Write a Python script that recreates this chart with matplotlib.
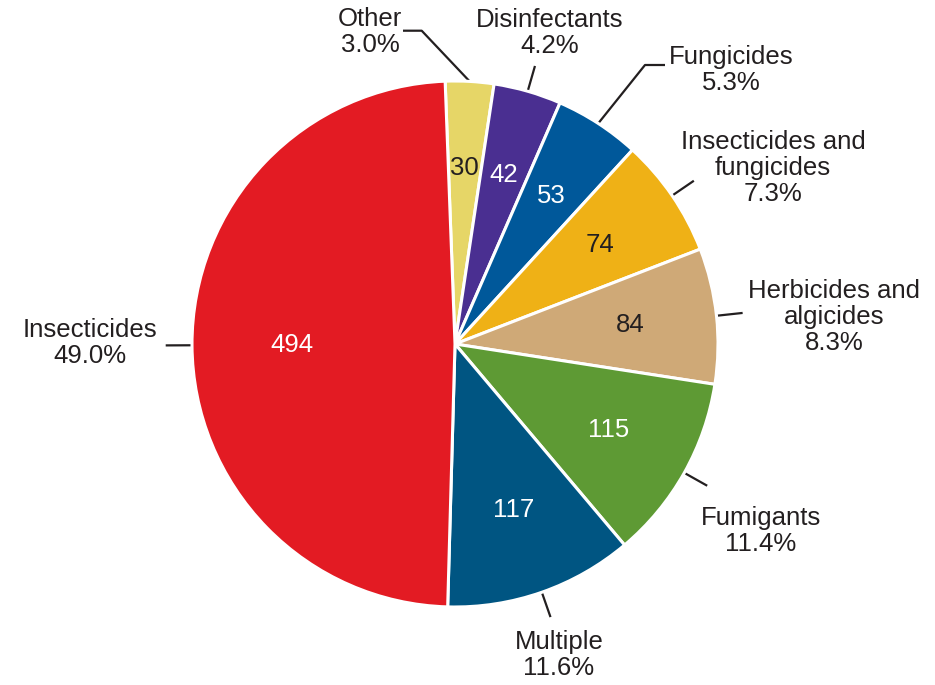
import numpy as np
import matplotlib
matplotlib.use("Agg")
import matplotlib.pyplot as plt

# Pesticide incidents by product class, clockwise from the top
categories = ["Other", "Disinfectants", "Fungicides", "Insecticides and\nfungicides",
              "Herbicides and\nalgicides", "Fumigants", "Multiple", "Insecticides"]
counts = [30, 42, 53, 74, 84, 115, 117, 494]
colors = ["#E6D667", "#4A2F91", "#00589A", "#EFB116",
          "#CFA977", "#5E9A34", "#005582", "#E31B23"]
count_colors = ["#231F20", "white", "white", "#231F20",
                "#231F20", "white", "white", "white"]

INK = "#231F20"
plt.rcParams["font.family"] = ["Liberation Sans", "DejaVu Sans"]
FS = 18.5

W, H = 935, 685
CX, CY, R = 455, 344, 263   # pie centre and radius in pixels


def px(x, y):
    """pixel position (from top-left) -> data coords of the pie axes"""
    return (x - CX) / R, (CY - y) / R


fig = plt.figure(figsize=(W / 100, H / 100), dpi=100)
ax = fig.add_axes([0, 0, 1, 1])

start = 92.15
wedges, _ = ax.pie(counts, colors=colors, startangle=start, counterclock=False,
                   radius=1.0, wedgeprops=dict(edgecolor="white", linewidth=2.2))

total = sum(counts)
for i, (w, n) in enumerate(zip(wedges, counts)):
    mid = np.deg2rad((w.theta1 + w.theta2) / 2)
    d = 0.62 if n == max(counts) else 0.67
    ax.text(d * np.cos(mid), d * np.sin(mid), str(n), ha="center", va="center",
            fontsize=FS, color=count_colors[i])

# outer labels: (text centre in pixels, elbow points of the leader in pixels)
label_pos = [(370, 32), (550, 33), (731, 70), (773, 168),
             (834, 317), (761, 531), (559, 655), (90, 343)]
elbows = {0: [(421.7, 30.7), (403, 30.7)], 2: [(645, 65), (665, 65)]}

for i, (w, n) in enumerate(zip(wedges, counts)):
    mid = np.deg2rad((w.theta1 + w.theta2) / 2)
    x0, y0 = np.cos(mid), np.sin(mid)
    if i in elbows:
        pts = [px(*p) for p in elbows[i]]
        xs = [x0] + [p[0] for p in pts]
        ys = [y0] + [p[1] for p in pts]
    else:
        xs = [x0, 1.1 * x0]
        ys = [y0, 1.1 * y0]
    ax.plot(xs, ys, color=INK, lw=1.6, solid_capstyle="butt", zorder=0)
    pct = 100 * n / total
    tx, ty = px(*label_pos[i])
    ax.text(tx, ty, f"{categories[i]}\n{pct:.1f}%", ha="center", va="center",
            fontsize=FS, color=INK, linespacing=1.08)

ax.set_xlim(-CX / R, (W - CX) / R)
ax.set_ylim(-(H - CY) / R, CY / R)
ax.set_aspect("auto")
ax.axis("off")

fig.savefig("out.png", dpi=100)
